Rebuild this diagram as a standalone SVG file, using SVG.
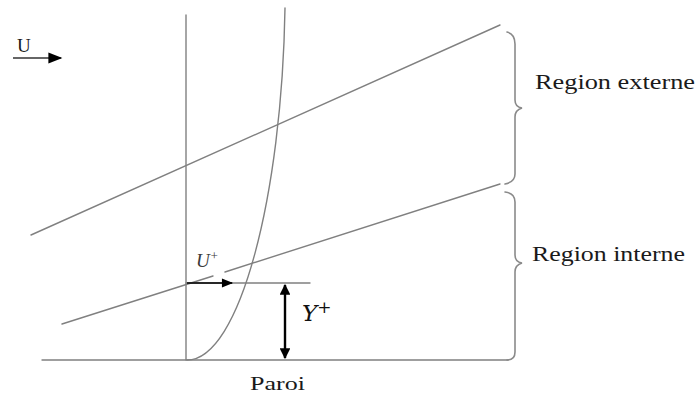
<svg xmlns="http://www.w3.org/2000/svg" width="697" height="396" viewBox="0 0 697 396">
<style>
.ln{fill:none;stroke:#808080;stroke-width:1.4;stroke-linecap:round}
.br{fill:none;stroke:#8a8a8a;stroke-width:1.6;stroke-linecap:round}
.lbl{font-family:"Liberation Serif","Times New Roman",serif;fill:#1a1a1a}
.ar{stroke:#000;stroke-width:1.6;fill:none}
</style>
<defs>
<marker id="ah" viewBox="0 0 10 10" refX="9" refY="5" markerWidth="8" markerHeight="7" orient="auto-start-reverse" markerUnits="strokeWidth">
<path d="M0,1 L10,5 L0,9 Z" fill="#000"/>
</marker>
<marker id="ah2" viewBox="0 0 10 10" refX="9" refY="5" markerWidth="4.5" markerHeight="4.5" orient="auto-start-reverse" markerUnits="strokeWidth">
<path d="M0,0 L10,5 L0,10 Z" fill="#000"/>
</marker>
</defs>
<g id="connectors">
<line class="ln" x1="31" y1="235" x2="500" y2="25"/>
<line class="ln" x1="62" y1="324" x2="213" y2="276"/>
<line class="ln" x1="225" y1="272" x2="500" y2="184"/>
<line class="ln" x1="186" y1="15" x2="186" y2="360"/>
<path class="ln" d="M187,360 C240,360 282,195 285,8"/>
<line class="ln" x1="186" y1="283" x2="310" y2="283"/>
<path class="ln" d="M42,360 L508,360"/>
</g>
<g id="brace-externe">
<path class="br" d="M507,32 Q515,34 515,44 L515,100 Q515,107 522,108 Q515,110 515,117 L515,174 Q515,182 505,184"/>
<text class="lbl" x="535" y="89" font-size="20" textLength="160" lengthAdjust="spacingAndGlyphs">Region externe</text>
</g>
<g id="brace-interne">
<path class="br" d="M505,192 Q515,193 515,202 L515,255 Q515,262 522,263 Q515,265 515,272 L515,352 Q515,360 507,360"/>
<text class="lbl" x="532" y="261" font-size="20" textLength="153" lengthAdjust="spacingAndGlyphs">Region interne</text>
</g>
<g id="U">
<text class="lbl" x="17" y="52" font-size="19" fill="#333">U</text>
<line x1="13" y1="58" x2="61" y2="58" stroke="#666" stroke-width="2" marker-end="url(#ah)"/>
</g>
<g id="u-plus">
<line class="ar" x1="187" y1="283" x2="232" y2="283" marker-end="url(#ah)"/>
<text x="196" y="267" font-family="'Liberation Serif',serif" font-style="italic" font-size="19" fill="#3a3a3a">U<tspan font-size="13" dy="-7">+</tspan></text>
</g>
<g id="y-plus">
<line x1="285" y1="285" x2="285" y2="358" stroke="#000" stroke-width="2.4" marker-start="url(#ah2)" marker-end="url(#ah2)"/>
<text x="302" y="321" font-family="'DejaVu Serif','Liberation Serif',serif" font-style="italic" font-size="23" fill="#111">Y<tspan font-size="17" dy="-8" font-style="normal">+</tspan></text>
</g>
<g id="paroi">
<text class="lbl" x="250" y="390" font-size="19" textLength="55" lengthAdjust="spacingAndGlyphs">Paroi</text>
</g>
</svg>
